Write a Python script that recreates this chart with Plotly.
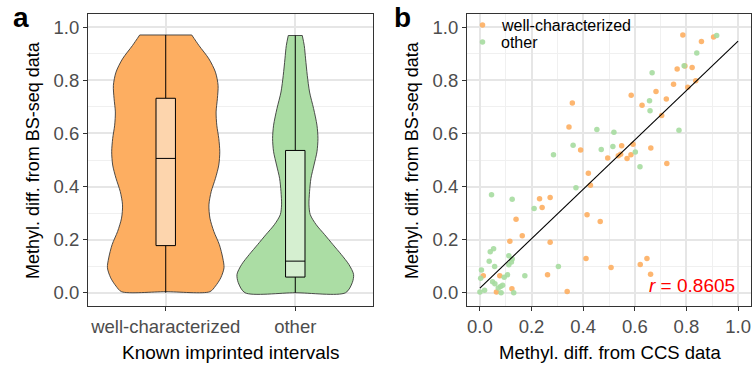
import plotly.graph_objects as go

# ---------------- data ----------------
categories = ["well-characterized", "other"]
cat_pos = [0, 1]

# violin outlines: levels (BS-seq value, top -> bottom) and relative density (1 = widest)
wc_levels = [0.971, 0.931, 0.881, 0.831, 0.781, 0.731, 0.681, 0.631, 0.581, 0.531, 0.481,
             0.431, 0.381, 0.331, 0.281, 0.231, 0.181, 0.131, 0.094, 0.056, 0.025, 0.004]
wc_density = [0.446, 0.571, 0.741, 0.853, 0.898, 0.886, 0.864, 0.876, 0.910, 0.927, 0.910,
              0.853, 0.780, 0.741, 0.758, 0.825, 0.920, 0.978, 1.000, 0.944, 0.853, 0.758]
ot_levels = [0.969, 0.931, 0.881, 0.819, 0.756, 0.694, 0.631, 0.581, 0.531, 0.481, 0.431,
             0.381, 0.331, 0.294, 0.256, 0.219, 0.181, 0.144, 0.106, 0.069, 0.038, 0.000]
ot_density = [0.120, 0.154, 0.177, 0.206, 0.245, 0.314, 0.372, 0.389, 0.372, 0.321, 0.269,
              0.245, 0.235, 0.257, 0.360, 0.503, 0.647, 0.789, 0.921, 1.000, 0.978, 0.863]

# box statistics
box_q1 = [0.1775, 0.059]
box_median = [0.506, 0.119]
box_q3 = [0.7325, 0.536]
box_low = [0.0, 0.0]
box_high = [0.971, 0.969]

# panel b scatter
wc_ccs = [0.786, 0.905, 0.858, 0.764, 0.822, 0.794, 0.836, 0.805, 0.750, 0.682,
          0.722, 0.586, 0.628, 0.704, 0.358, 0.345, 0.662, 0.549, 0.593, 0.585,
          0.570, 0.536, 0.545, 0.495, 0.390, 0.724, 0.420, 0.428, 0.231, 0.272,
          0.241, 0.140, 0.415, 0.466, 0.164, 0.116, 0.272, 0.411, 0.647, 0.621,
          0.508, 0.661, 0.262, 0.013, 0.077, 0.124, 0.064, 0.338]
wc_bs = [0.971, 0.963, 0.946, 0.843, 0.848, 0.854, 0.799, 0.774, 0.785, 0.758,
         0.730, 0.744, 0.706, 0.668, 0.715, 0.624, 0.545, 0.554, 0.559, 0.520,
         0.506, 0.516, 0.522, 0.508, 0.538, 0.487, 0.450, 0.405, 0.354, 0.359,
         0.321, 0.277, 0.294, 0.268, 0.215, 0.194, 0.190, 0.129, 0.129, 0.106,
         0.095, 0.070, 0.068, 0.064, 0.064, 0.015, 0.003, 0.005]

ot_ccs = [0.917, 0.840, 0.791, 0.667, 0.657, 0.659, 0.771, 0.453, 0.519, 0.361,
          0.515, 0.470, 0.602, 0.285, 0.620, 0.372, 0.210, 0.045, 0.125, 0.053,
          0.040, 0.112, 0.036, 0.122, 0.125, 0.112, 0.057, 0.006, 0.304, 0.174,
          0.107, 0.094, 0.003, 0.049, 0.058, 0.080, 0.071, 0.088, 0.018, 0.000,
          0.082, 0.131]
ot_bs = [0.969, 0.903, 0.855, 0.829, 0.723, 0.686, 0.612, 0.615, 0.605, 0.556,
         0.551, 0.540, 0.530, 0.520, 0.475, 0.395, 0.317, 0.369, 0.352, 0.166,
         0.154, 0.139, 0.119, 0.116, 0.127, 0.105, 0.099, 0.086, 0.099, 0.064,
         0.068, 0.058, 0.055, 0.041, 0.034, 0.023, 0.018, 0.028, 0.009, 0.003,
         0.000, 0.000]

# regression line endpoints (panel b)
fit_x = [0.0, 1.0]
fit_y = [0.0175, 0.9475]
r_text = "<i>r</i> = 0.8605"
legend_names = ["well-characterized", "other"]

# ---------------- styles ----------------
W, H = 753, 367
ORANGE = "#FDAE61"
GREEN = "#A6DBA0"
ORANGE_V = "#FDAE61"
GREEN_V = "#ABDDA4"
ORANGE_BOX = "#FDD5AD"
GREEN_BOX = "#D5EFD0"
FONT = "Liberation Sans, Arial, sans-serif"
TICKC = "#4D4D4D"
VIOLIN_HALF = 0.45
BOX_HALF = 0.075
PT_SIZE = 5.5
OUTLINE = "#3A3A3A"

fig = go.Figure()
shapes = []

for pos, lev, dens, fc in [(cat_pos[0], wc_levels, wc_density, ORANGE_V),
                           (cat_pos[1], ot_levels, ot_density, GREEN_V)]:
    # open outline: top-right -> down right side -> bottom -> up left side -> top-left
    xs = [pos + VIOLIN_HALF * d for d in dens] + [pos] + \
         [pos - VIOLIN_HALF * d for d in reversed(dens)]
    ys = list(lev) + [lev[-1]] + list(reversed(lev))
    fig.add_trace(go.Scatter(
        x=xs, y=ys, xaxis="x", yaxis="y", mode="lines", fill="toself",
        fillcolor=fc, line=dict(color=OUTLINE, width=0.9, shape="spline", smoothing=0.8),
        showlegend=False, hoverinfo="skip"))
    # flat top edge (trimmed at the data maximum)
    fig.add_trace(go.Scatter(
        x=[pos - VIOLIN_HALF * dens[0], pos + VIOLIN_HALF * dens[0]], y=[lev[0], lev[0]],
        xaxis="x", yaxis="y", mode="lines", line=dict(color=OUTLINE, width=0.9),
        showlegend=False, hoverinfo="skip"))

# boxplots (drawn as shapes on the data axes so they sit above the violins)
for i, fc in enumerate([ORANGE_BOX, GREEN_BOX]):
    p = cat_pos[i]
    base = dict(xref="x", yref="y", layer="above")
    shapes.append(dict(type="line", x0=p, x1=p, y0=box_low[i], y1=box_q1[i],
                       line=dict(color="black", width=1), **base))
    shapes.append(dict(type="line", x0=p, x1=p, y0=box_q3[i], y1=box_high[i],
                       line=dict(color="black", width=1), **base))
    shapes.append(dict(type="rect", x0=p - BOX_HALF, x1=p + BOX_HALF, y0=box_q1[i], y1=box_q3[i],
                       fillcolor=fc, line=dict(color="black", width=1), **base))
    shapes.append(dict(type="line", x0=p - BOX_HALF, x1=p + BOX_HALF,
                       y0=box_median[i], y1=box_median[i],
                       line=dict(color="black", width=1), **base))

fig.add_trace(go.Scatter(
    x=wc_ccs, y=wc_bs, mode="markers", name=legend_names[0],
    xaxis="x2", yaxis="y2", showlegend=False,
    marker=dict(color=ORANGE, size=PT_SIZE, opacity=0.9, line=dict(width=0))))
fig.add_trace(go.Scatter(
    x=ot_ccs, y=ot_bs, mode="markers", name=legend_names[1],
    xaxis="x2", yaxis="y2", showlegend=False,
    marker=dict(color=GREEN, size=PT_SIZE, opacity=0.9, line=dict(width=0))))
fig.add_trace(go.Scatter(
    x=fit_x, y=fit_y, mode="lines", xaxis="x2", yaxis="y2",
    line=dict(color="black", width=1.1), showlegend=False, hoverinfo="skip"))

ydom = [1 - 306 / H, 1 - 14 / H]
common = dict(
    showline=True, mirror=True, linecolor="#333333", linewidth=1.2,
    ticks="outside", ticklen=4, tickcolor="#333333", tickwidth=1,
    tickfont=dict(family=FONT, size=18.5, color=TICKC),
    gridcolor="#E6E6E6", gridwidth=1.6, zeroline=False, automargin=False,
)
minor = dict(showgrid=True, gridcolor="#F0F0F0", gridwidth=1, ticks="")

fig.update_layout(
    width=W, height=H, margin=dict(l=0, r=0, t=0, b=0),
    paper_bgcolor="white", plot_bgcolor="white",
    font=dict(family=FONT, color="black"),
    showlegend=False,
    xaxis=dict(domain=[88 / W, 373 / W], range=[-0.6, 1.6],
               tickmode="array", tickvals=cat_pos, ticktext=categories,
               anchor="y", **common),
    yaxis=dict(domain=ydom, range=[-0.05, 1.05], dtick=0.2, tick0=0,
               tickformat=".1f", anchor="x",
               minor=dict(dtick=0.1, tick0=0, **minor), **common),
    xaxis2=dict(domain=[467 / W, 751 / W], range=[-0.05, 1.05], dtick=0.2, tick0=0,
                tickformat=".1f", anchor="y2",
                minor=dict(dtick=0.1, tick0=0, **minor), **common),
    yaxis2=dict(domain=ydom, range=[-0.05, 1.05], dtick=0.2, tick0=0,
                tickformat=".1f", anchor="x2",
                minor=dict(dtick=0.1, tick0=0, **minor), **common),
)

ann = [
    dict(text="<b>a</b>", x=21 / W, y=1 - 17 / H, font=dict(size=28, family=FONT)),
    dict(text="<b>b</b>", x=402 / W, y=1 - 17 / H, font=dict(size=28, family=FONT)),
    dict(text="Methyl. diff. from BS-seq data", x=33 / W, y=1 - 160 / H, textangle=-90,
         font=dict(size=18, family=FONT)),
    dict(text="Methyl. diff. from BS-seq data", x=412 / W, y=1 - 160 / H, textangle=-90,
         font=dict(size=18, family=FONT)),
    dict(text="Known imprinted intervals", x=230.5 / W, y=1 - 352 / H,
         font=dict(size=19, family=FONT)),
    dict(text="Methyl. diff. from CCS data", x=609.7 / W, y=1 - 352 / H,
         font=dict(size=18.5, family=FONT)),
    dict(text=r_text, x=737 / W, y=1 - 285 / H, xanchor="right",
         font=dict(size=19, family=FONT, color="#FF0000")),
]
# manual legend (top-left of panel b)
leg_y = [25, 42]
for name, col, yy in zip(legend_names, [ORANGE, GREEN], leg_y):
    ann.append(dict(text=name, x=499 / W, y=1 - yy / H, xanchor="left",
                    font=dict(size=16, family=FONT)))
    r = PT_SIZE / 2
    shapes.append(dict(type="circle", xref="paper", yref="paper",
                       x0=(482.5 - r) / W, x1=(482.5 + r) / W,
                       y0=1 - (yy + r) / H, y1=1 - (yy - r) / H,
                       fillcolor=col, opacity=0.9, line=dict(width=0)))
for a in ann:
    a.setdefault("xanchor", "center")
    a.setdefault("yanchor", "middle")
    a.update(xref="paper", yref="paper", showarrow=False)
fig.update_layout(annotations=ann, shapes=shapes)

fig.write_html("out.html", config={"displayModeBar": False},
               post_script="document.body.style.margin='0';document.body.style.overflow='hidden';")
